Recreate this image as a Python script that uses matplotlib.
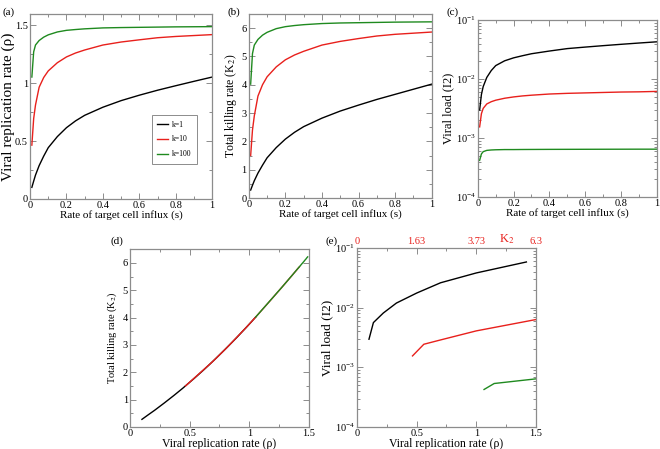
import numpy as np
import matplotlib
matplotlib.use("Agg")
import matplotlib.pyplot as plt
from matplotlib.ticker import MultipleLocator, FormatStrFormatter, LogLocator, LogFormatterMathtext, NullFormatter

plt.rcParams['font.family'] = ['Liberation Serif', 'DejaVu Serif']
plt.rcParams['mathtext.fontset'] = 'stix'

# rate of target cell influx (s)
s = [0.01, 0.02, 0.03, 0.05, 0.075, 0.1, 0.15, 0.2, 0.25, 0.3, 0.4, 0.5, 0.6, 0.7, 0.8, 0.9, 1.0]

# viral replication rate rho, panel (a)
rho_k1 = [0.10, 0.154, 0.206, 0.288, 0.37, 0.443, 0.539, 0.616, 0.675, 0.723, 0.793, 0.85, 0.897, 0.94, 0.979, 1.017, 1.054]
rho_k10 = [0.465, 0.695, 0.812, 0.966, 1.05, 1.107, 1.178, 1.228, 1.262, 1.288, 1.331, 1.357, 1.376, 1.394, 1.405, 1.413, 1.421]
rho_k100 = [1.054, 1.272, 1.331, 1.37, 1.399, 1.419, 1.444, 1.458, 1.465, 1.471, 1.479, 1.482, 1.484, 1.486, 1.488, 1.489, 1.49]

# total killing rate K2, panel (b)
k2_k1 = [0.28, 0.45, 0.61, 0.88, 1.16, 1.42, 1.78, 2.08, 2.32, 2.52, 2.82, 3.07, 3.28, 3.48, 3.66, 3.84, 4.02]
k2_k10 = [1.50, 2.40, 2.90, 3.60, 4.00, 4.28, 4.63, 4.88, 5.05, 5.18, 5.40, 5.53, 5.63, 5.72, 5.78, 5.82, 5.86]
k2_k100 = [4.02, 5.10, 5.40, 5.60, 5.75, 5.85, 5.98, 6.05, 6.09, 6.12, 6.16, 6.18, 6.19, 6.20, 6.21, 6.215, 6.22]

# viral load I2, panel (c)
i2_k1 = [3.0e-3, 5.5e-3, 7.5e-3, 1.07e-2, 1.4e-2, 1.7e-2, 2.05e-2, 2.3e-2, 2.5e-2, 2.7e-2, 3.0e-2, 3.3e-2, 3.5e-2, 3.7e-2, 3.9e-2, 4.1e-2, 4.3e-2]
i2_k10 = [1.55e-3, 2.6e-3, 3.2e-3, 3.8e-3, 4.15e-3, 4.4e-3, 4.75e-3, 5.0e-3, 5.2e-3, 5.35e-3, 5.6e-3, 5.75e-3, 5.85e-3, 5.95e-3, 6.05e-3, 6.1e-3, 6.2e-3]
i2_k100 = [4.2e-4, 5.4e-4, 5.9e-4, 6.2e-4, 6.3e-4, 6.35e-4, 6.4e-4, 6.4e-4, 6.42e-4, 6.43e-4, 6.45e-4, 6.46e-4, 6.47e-4, 6.48e-4, 6.49e-4, 6.5e-4, 6.5e-4]

# panel (e): viral load vs replication rate
rho_e_k1 = [0.10, 0.137, 0.22, 0.33, 0.5, 0.70, 1.0, 1.42]
i2_e_k1 = [2.95e-3, 5.6e-3, 8.1e-3, 1.19e-2, 1.75e-2, 2.6e-2, 3.8e-2, 5.8e-2]
rho_e_k10 = [0.465, 0.56, 0.70, 1.0, 1.5]
i2_e_k10 = [1.55e-3, 2.43e-3, 2.87e-3, 4.07e-3, 6.3e-3]
rho_e_k100 = [1.065, 1.15, 1.5]
i2_e_k100 = [4.25e-4, 5.35e-4, 6.4e-4]

# top axis of (e)
top_ticks = [0, 0.5, 1.0, 1.5]
top_labels = ['0', '1.63', '3.73', '6.3']

labels = ['k=1', 'k=10', 'k=100']
colors = ['black', '#e8201c', '#1f8a1f']

GRAY = '#8c8c8c'
XLBL = 8
TCK = 7.5


def style(ax):
    for sp in ax.spines.values():
        sp.set_color(GRAY)
        sp.set_linewidth(0.9)
    ax.tick_params(which='both', direction='in', top=True, right=True, colors=GRAY,
                   labelcolor='black', labelsize=TCK, width=0.7, pad=1.5)
    ax.tick_params(which='major', length=4)
    ax.tick_params(which='minor', length=2)


fig = plt.figure(figsize=(6.6, 4.49), dpi=100)

# (a)
ax = fig.add_axes([0.0455, 0.557, 0.276, 0.412])
for y, c, l in zip([rho_k1, rho_k10, rho_k100], colors, labels):
    ax.plot(s, y, color=c, lw=1.0, label=l)
ax.set_xlim(0, 1)
ax.set_ylim(0, 1.6)
ax.xaxis.set_major_locator(MultipleLocator(0.2))
ax.xaxis.set_minor_locator(MultipleLocator(0.1))
ax.yaxis.set_major_locator(MultipleLocator(0.5))
ax.yaxis.set_minor_locator(MultipleLocator(0.25))
ax.xaxis.set_major_formatter(FormatStrFormatter('%g'))
ax.yaxis.set_major_formatter(FormatStrFormatter('%g'))
ax.set_xlabel('Rate of target cell influx (s)', fontsize=XLBL, labelpad=0)
ax.set_ylabel('Viral replication rate (ρ)', fontsize=11, labelpad=0)
style(ax)
leg = ax.legend(loc='lower right', bbox_to_anchor=(0.935, 0.17), fontsize=5.5, fancybox=False,
                handlelength=1.4, handletextpad=0.5, borderpad=0.7, labelspacing=0.9, framealpha=1)
leg.get_frame().set_edgecolor(GRAY)
leg.get_frame().set_linewidth(0.7)

# (b)
ax = fig.add_axes([0.377, 0.559, 0.277, 0.41])
for y, c in zip([k2_k1, k2_k10, k2_k100], colors):
    ax.plot(s, y, color=c, lw=1.0)
ax.set_xlim(0, 1)
ax.set_ylim(0, 6.5)
ax.xaxis.set_major_locator(MultipleLocator(0.2))
ax.xaxis.set_minor_locator(MultipleLocator(0.1))
ax.yaxis.set_major_locator(MultipleLocator(1))
ax.yaxis.set_minor_locator(MultipleLocator(0.5))
ax.xaxis.set_major_formatter(FormatStrFormatter('%g'))
ax.set_xlabel('Rate of target cell influx (s)', fontsize=XLBL, labelpad=0)
ax.set_ylabel(r'Total killing rate (K$_2$)', fontsize=8.5, labelpad=2)
style(ax)

# (c)
ax = fig.add_axes([0.724, 0.561, 0.271, 0.394])
for y, c in zip([i2_k1, i2_k10, i2_k100], colors):
    ax.plot(s, y, color=c, lw=1.0)
ax.set_yscale('log')
ax.set_xlim(0, 1)
ax.set_ylim(1e-4, 1e-1)
ax.xaxis.set_major_locator(MultipleLocator(0.2))
ax.xaxis.set_minor_locator(MultipleLocator(0.1))
ax.xaxis.set_major_formatter(FormatStrFormatter('%g'))
ax.yaxis.set_major_locator(LogLocator(base=10))
ax.yaxis.set_major_formatter(LogFormatterMathtext())
ax.yaxis.set_minor_locator(LogLocator(base=10, subs=np.arange(2, 10)))
ax.yaxis.set_minor_formatter(NullFormatter())
ax.set_xlabel('Rate of target cell influx (s)', fontsize=XLBL, labelpad=0)
ax.set_ylabel('Viral load (I2)', fontsize=9, labelpad=1)
style(ax)

# (d)
ax = fig.add_axes([0.197, 0.049, 0.271, 0.396])
for x, y, c in zip([rho_k1, rho_k10, rho_k100], [k2_k1, k2_k10, k2_k100], colors):
    ax.plot(x, y, color=c, lw=1.0)
ax.set_xlim(0, 1.5)
ax.set_ylim(0, 6.5)
ax.xaxis.set_major_locator(MultipleLocator(0.5))
ax.xaxis.set_minor_locator(MultipleLocator(0.25))
ax.yaxis.set_major_locator(MultipleLocator(1))
ax.yaxis.set_minor_locator(MultipleLocator(0.5))
ax.xaxis.set_major_formatter(FormatStrFormatter('%g'))
ax.set_xlabel('Viral replication rate (ρ)', fontsize=8.5, labelpad=0)
ax.set_ylabel(r'Total killing rate (K$_2$)', fontsize=7.5, labelpad=3)
style(ax)

# (e)
ax = fig.add_axes([0.541, 0.049, 0.271, 0.399])
for x, y, c in zip([rho_e_k1, rho_e_k10, rho_e_k100], [i2_e_k1, i2_e_k10, i2_e_k100], colors):
    ax.plot(x, y, color=c, lw=1.0)
ax.set_yscale('log')
ax.set_xlim(0, 1.5)
ax.set_ylim(1e-4, 1e-1)
ax.xaxis.set_major_locator(MultipleLocator(0.5))
ax.xaxis.set_minor_locator(MultipleLocator(0.25))
ax.xaxis.set_major_formatter(FormatStrFormatter('%g'))
ax.yaxis.set_major_locator(LogLocator(base=10))
ax.yaxis.set_major_formatter(LogFormatterMathtext())
ax.yaxis.set_minor_locator(LogLocator(base=10, subs=np.arange(2, 10)))
ax.yaxis.set_minor_formatter(NullFormatter())
ax.set_xlabel('Viral replication rate (ρ)', fontsize=8.5, labelpad=0)
ax.set_ylabel('Viral load (I2)', fontsize=9.5, labelpad=1)
style(ax)
sec = ax.secondary_xaxis('top')
sec.set_xticks(top_ticks, labels=top_labels)
sec.tick_params(length=0, labelsize=TCK, labelcolor='#e8201c', pad=1)
sec.spines['top'].set_visible(False)
ax.text(1.255, 1.012, r'K$_2$', color='#e8201c', fontsize=9,
        transform=ax.get_xaxis_transform(), ha='center', va='bottom')

# panel letters
for x, y, t in [(0.004, 0.968, '(a)'), (0.345, 0.968, '(b)'), (0.677, 0.968, '(c)'),
                (0.167, 0.458, '(d)'), (0.493, 0.458, '(e)')]:
    fig.text(x, y, t, fontsize=8)

fig.savefig('out.png', dpi=100)
